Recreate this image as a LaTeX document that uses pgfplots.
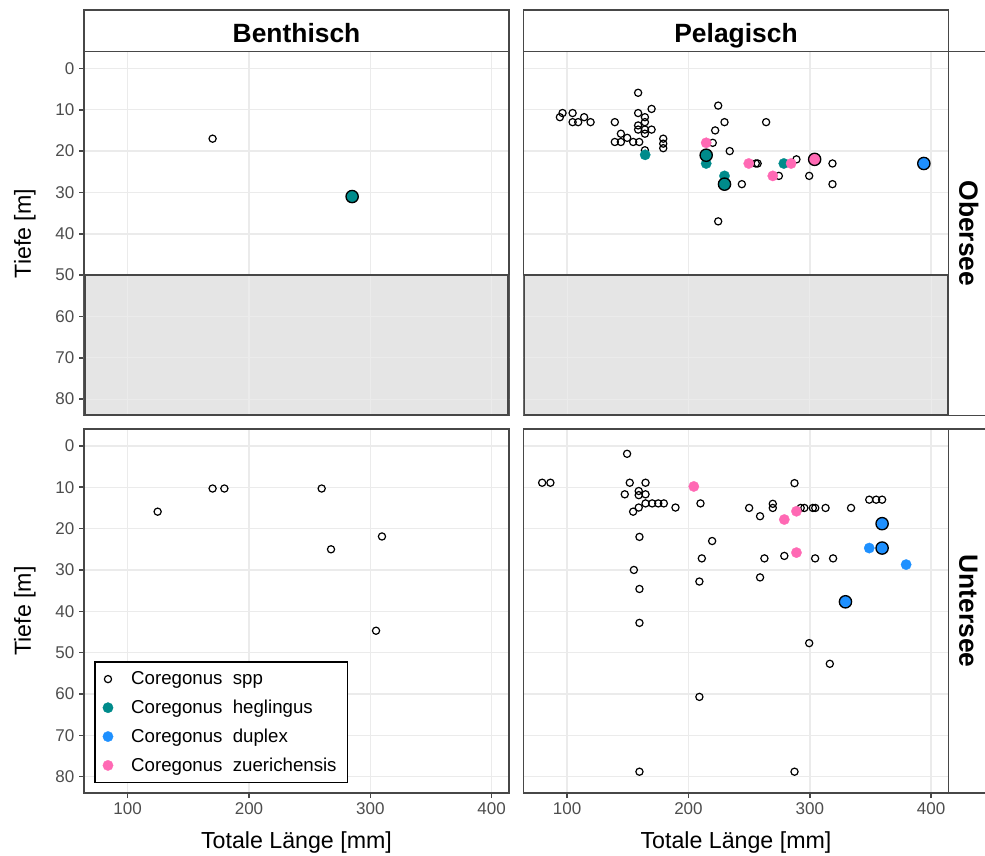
\documentclass[border=0pt]{standalone}
\usepackage{fontspec}
\setmainfont{Liberation Sans}
\usepackage{pgfplots}
\pgfplotsset{compat=1.18}
\definecolor{tealc}{HTML}{008B8B}
\definecolor{bluec}{HTML}{1E90FF}
\definecolor{pinkc}{HTML}{FF69B4}
\definecolor{gridc}{HTML}{EBEBEB}
\definecolor{framec}{HTML}{474747}
\definecolor{tickc}{HTML}{4D4D4D}
\definecolor{shadec}{HTML}{E5E5E5}

\pgfplotsset{
  panel/.style={
    scale only axis, width=318.75pt, height=273pt,
    xmin=64, xmax=414.3, ymin=-4.1, ymax=83.95, y dir=reverse,
    xtick={100,200,300,400}, ytick={0,10,...,80},
    grid=major, major grid style={gridc, line width=1.1pt},
    axis line style={framec, line width=1.3pt},
    tick style={framec, line width=1.2pt},
    major tick length=3.75pt, tick align=outside,
    xtick pos=bottom, ytick pos=left,
    /pgf/number format/assume math mode=true,
    ticklabel style={font=\fontsize{12.75}{14}\selectfont, text=tickc},
    every axis x label/.style={at={(axis description cs:0.5,-0.137)}, anchor=center, font=\fontsize{17.4}{20}\selectfont},
    every axis y label/.style={at={(axis description cs:-0.139,0.5)}, rotate=90, anchor=center, font=\fontsize{17.4}{20}\selectfont},
  },
  notop/.style={xticklabels={}, xtick style={draw=none}},
  noleft/.style={yticklabels={}, ytick style={draw=none}},
  spp/.style={only marks, mark=o, mark size=2.7pt, black, line width=0.9pt},
  small/.style={only marks, mark=*, mark size=3.9pt, color=#1, mark options={draw=#1, fill=#1, line width=0.2pt}},
  big/.style={only marks, mark=*, mark size=4.6pt, mark options={draw=black, fill=#1, line width=1pt}},
}
\newcommand{\shadebox}{%
  \addplot[draw=none, fill=shadec] coordinates {(64,50) (414.3,50) (414.3,83.95) (64,83.95) (64,50)};
  \addplot[gridc, line width=0.9pt] coordinates {(100,50) (100,90)};
  \addplot[gridc, line width=0.9pt] coordinates {(200,50) (200,90)};
  \addplot[gridc, line width=0.9pt] coordinates {(300,50) (300,90)};
  \addplot[gridc, line width=0.9pt] coordinates {(400,50) (400,90)};
  \addplot[gridc, line width=0.9pt] coordinates {(50,60) (430,60)};
  \addplot[gridc, line width=0.9pt] coordinates {(50,70) (430,70)};
  \addplot[gridc, line width=0.9pt] coordinates {(50,80) (430,80)};
  \addplot[draw=framec, line width=2.6pt] coordinates {(414.3,50) (414.3,83.95) (64,83.95) (64,50)};
  \addplot[draw=framec, line width=1.3pt] coordinates {(64,50) (414.3,50)};
}

\begin{document}
\begin{tikzpicture}
\useasboundingbox (0,0) rectangle (738.75pt,642pt);

% ---------------- Benthisch / Obersee ----------------
\begin{axis}[panel, notop, at={(63pt,330.4pt)}, anchor=south west, ylabel={Tiefe [m]}]
\shadebox
\addplot[spp] coordinates {(170,17)};
\addplot[big=tealc] coordinates {(285,31)};
\end{axis}

% ---------------- Pelagisch / Obersee ----------------
\begin{axis}[panel, notop, noleft, at={(392.6pt,330.4pt)}, anchor=south west]
\shadebox
\addplot[spp] table {
94 11.8
96.2 10.8
104.5 10.8
104.5 13
109.1 13
114 11.8
119.3 13
139.3 13
139.3 17.8
144.3 17.8
144.3 15.8
149.5 16.8
154.4 17.8
159.4 17.8
158.5 5.9
158.5 10.8
164.1 11.8
164.1 13
158.5 13.8
158.5 14.8
164.1 14.8
169.6 14.8
169.6 9.8
164.1 15.8
179.2 17.0
179.2 18.2
179.2 19.3
164.1 19.8
224.5 9
229.7 13
222 15
220 18
234 20
264 13
255.5 23
257 23
289 22
318.7 23
299.5 26
274.5 26
244 28
318.7 28
224.5 37
};
\addplot[small=tealc] coordinates {(164.3,20.9) (214.6,23) (229.7,26) (278.6,23)};
\addplot[small=pinkc] coordinates {(214.6,18) (249.7,23) (284.6,23) (269.5,26)};
\addplot[big=tealc] coordinates {(214.6,21) (229.7,28)};
\addplot[big=pinkc] coordinates {(304,22)};
\addplot[big=bluec] coordinates {(394,23)};
\end{axis}

% ---------------- Benthisch / Untersee ----------------
\begin{axis}[panel, at={(63pt,47.25pt)}, anchor=south west,
  ylabel={Tiefe [m]}, xlabel={Totale Länge [mm]},
  legend style={at={(0.0235,0.0266)}, anchor=south west, draw=black, line width=1.2pt,
    fill=white, font=\fontsize{14}{16.5}\selectfont, row sep=6pt, inner xsep=6pt, inner ysep=5pt,
    /tikz/every odd column/.append style={column sep=11.5pt}},
  legend cell align=left]
\addlegendimage{spp}
\addlegendentry{Coregonus\ \ spp}
\addlegendimage{small=tealc}
\addlegendentry{Coregonus\ \ heglingus}
\addlegendimage{small=bluec}
\addlegendentry{Coregonus\ \ duplex}
\addlegendimage{small=pinkc}
\addlegendentry{Coregonus\ \ zuerichensis}
\addplot[spp, forget plot] coordinates {(124.7,15.9) (170,10.3) (179.7,10.3) (259.9,10.3) (267.6,25) (309.6,21.9) (304.7,44.7)};
\end{axis}

% ---------------- Pelagisch / Untersee ----------------
\begin{axis}[panel, noleft, at={(392.6pt,47.25pt)}, anchor=south west, xlabel={Totale Länge [mm]}]
\addplot[spp] table {
79.4 8.9
86.2 8.9
149.4 1.9
151.6 8.9
164.6 8.9
147.5 11.7
159 10.9
159 11.9
164.6 11.7
164.6 13.9
170.1 13.9
175.1 13.9
179.7 13.9
159 14.9
154.4 15.9
189.3 14.9
209.9 13.9
250 15
259 17
269.5 14
269.5 15
287.4 9
292.5 15
295.5 15
302.5 15
304.5 15
313 15
334 15
349 13
354.7 13
359.6 13
159.6 22
219.5 23
211 27.2
262.6 27.2
279 26.6
304.4 27.2
319.2 27.2
155 30
209 32.8
259 31.8
159.6 34.6
159.6 42.8
299.5 47.7
316.5 52.7
209 60.7
159.6 78.8
287.4 78.8
};
\addplot[small=pinkc] coordinates {(204.4,9.8) (279,17.8) (289,15.8) (289,25.8)};
\addplot[small=bluec] coordinates {(349,24.7) (379.4,28.7)};
\addplot[big=bluec] coordinates {(359.6,18.8) (359.6,24.7) (329.4,37.7)};
\end{axis}

% ---------------- strips ----------------
\tikzset{strip/.style={draw=framec, line width=1.3pt, fill=white}}
\tikzset{striptext/.style={font=\fontsize{19.8}{22}\selectfont\bfseries, inner sep=0pt}}
\draw[strip] (63pt,603.4pt) rectangle (381.75pt,634.4pt);
\node[striptext, anchor=base] at (222.4pt,610.3pt) {Benthisch};
\draw[strip] (392.6pt,603.4pt) rectangle (711.35pt,634.4pt);
\node[striptext, anchor=base] at (552pt,610.3pt) {Pelagisch};
\draw[strip] (711.35pt,330.4pt) rectangle (745pt,603.4pt);
\node[striptext, rotate=-90, anchor=base] at (719.6pt,466.9pt) {Obersee};
\draw[strip] (711.35pt,47.25pt) rectangle (745pt,320.25pt);
\node[striptext, rotate=-90, anchor=base] at (719.6pt,183.75pt) {Untersee};
\end{tikzpicture}
\end{document}
